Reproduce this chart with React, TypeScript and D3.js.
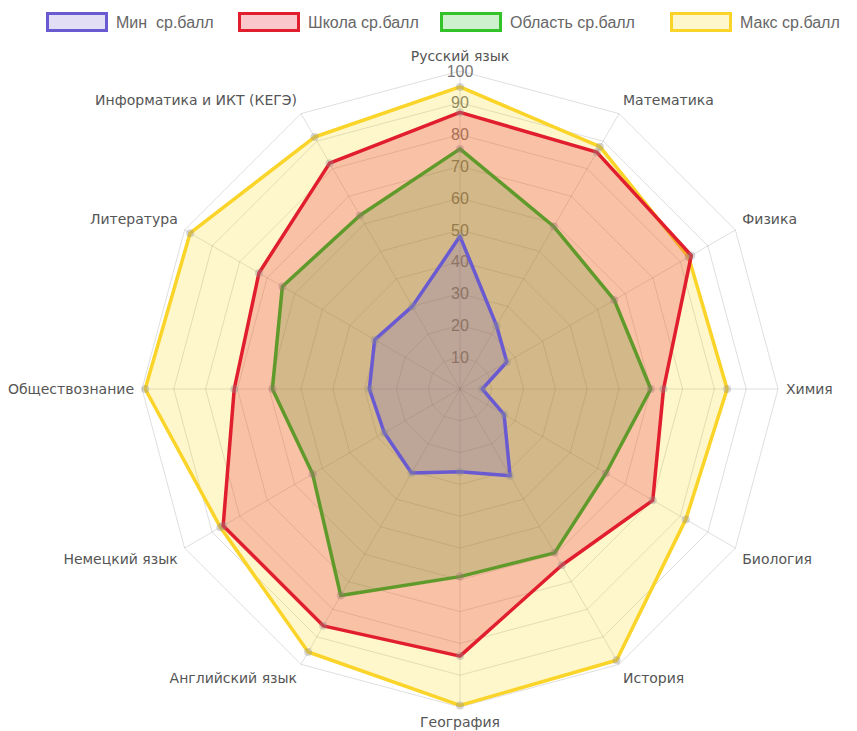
import React from "react";
import * as d3 from "d3";

const subjects = [
  "Русский язык",
  "Математика",
  "Физика",
  "Химия",
  "Биология",
  "История",
  "География",
  "Английский язык",
  "Немецкий язык",
  "Обществознание",
  "Литература",
  "Информатика и ИКТ (КЕГЭ)",
];

const minScores = [48, 23, 17, 7, 16, 31.5, 26, 30.5, 27.5, 28.5, 31, 30];
const schoolScores = [87, 86, 84, 64, 70, 64, 84, 86, 86, 71, 73, 82];
const regionScores = [75.5, 59, 56, 60, 53, 59.5, 59, 75, 53.5, 59, 64.5, 63];
const maxScores = [95, 88, 83, 84, 82, 98.5, 99.5, 95.5, 87, 99, 98, 91.5];

const tickValues = [10, 20, 30, 40, 50, 60, 70, 80, 90, 100];

const series = [
  { name: "Мин  ср.балл", values: minScores, stroke: "rgb(106,90,210)", fill: "rgba(106,90,210,0.2)" },
  { name: "Школа ср.балл", values: schoolScores, stroke: "rgb(225,30,45)", fill: "rgba(230,30,50,0.25)" },
  { name: "Область ср.балл", values: regionScores, stroke: "rgb(50,195,40)", fill: "rgba(50,200,50,0.25)" },
  { name: "Макс ср.балл", values: maxScores, stroke: "rgb(250,212,40)", fill: "rgba(255,215,0,0.2)" },
];

const width = 857;
const height = 731;
const cx = 460;
const cy = 389;
const font = "'Liberation Sans', Arial, sans-serif";
const labelFont = "'DejaVu Sans', sans-serif";

const App = () => {
  const r = d3.scaleLinear().domain([0, 100]).range([0, 318]);
  const angle = d3
    .scaleLinear()
    .domain([0, subjects.length])
    .range([0, Math.PI * 2]);

  const pt = (i: number, v: number): [number, number] => {
    const a = angle(i);
    return [cx + r(v) * Math.sin(a), cy - r(v) * Math.cos(a)];
  };

  const radarLine = d3
    .lineRadial<number>()
    .angle((d, i) => angle(i))
    .radius((d) => r(d))
    .curve(d3.curveLinearClosed);

  const ring = (v: number) =>
    subjects.map((s, i) => pt(i, v).join(",")).join(" ");

  const labelPos = (i: number) => {
    const a = angle(i);
    const deg = (a * 180) / Math.PI;
    const [x, y] = pt(i, 102.5);
    let anchor = "start";
    if (Math.abs(deg) < 1 || Math.abs(deg - 180) < 1) anchor = "middle";
    else if (deg > 180) anchor = "end";
    let dy = 0;
    if (Math.abs(deg - 90) < 1 || Math.abs(deg - 270) < 1) dy = 0;
    else if (deg < 90 || deg > 270) dy = -7;
    else dy = 7;
    return { x, y: y + dy, anchor };
  };

  // legend layout
  const legendX = [46, 238, 440, 670];

  return (
    <svg
      width={width}
      height={height}
      style={{ position: "absolute", left: 0, top: 0, background: "#fff" }}
    >
      {/* legend */}
      <g fontFamily={font} fontSize={16} fill="#666">
        {series.map((s, i) => (
          <g key={s.name} transform={`translate(${legendX[i]}, 12)`}>
            <rect x={1.5} y={1.5} width={59} height={17} fill={s.fill} stroke={s.stroke} strokeWidth={3} />
            <text x={70} y={10} dominantBaseline="central" style={{ whiteSpace: "pre" }}>
              {s.name}
            </text>
          </g>
        ))}
      </g>

      {/* grid */}
      <g fill="none" stroke="rgba(0,0,0,0.13)" strokeWidth={1}>
        {tickValues.map((t) => (
          <polygon key={t} points={ring(t)} />
        ))}
        {subjects.map((s, i) => {
          const [x, y] = pt(i, 100);
          return <line key={s} x1={cx} y1={cy} x2={x} y2={y} />;
        })}
      </g>

      {/* tick labels */}
      <g fontFamily={font} fontSize={16} fill="#777" textAnchor="middle">
        {tickValues.map((t) => (
          <text key={t} x={cx} y={cy - r(t)} dominantBaseline="central">
            {t}
          </text>
        ))}
      </g>

      {/* point labels */}
      <g fontFamily={labelFont} fontSize={14} fill="#555">
        {subjects.map((s, i) => {
          const p = labelPos(i);
          return (
            <text key={s} x={p.x} y={p.y} textAnchor={p.anchor} dominantBaseline="central">
              {s}
            </text>
          );
        })}
      </g>

      {/* datasets, last drawn first */}
      {series
        .slice()
        .reverse()
        .map((s) => (
          <g key={s.name}>
            <path
              d={radarLine(s.values) || ""}
              transform={`translate(${cx}, ${cy})`}
              fill={s.fill}
              stroke={s.stroke}
              strokeWidth={3.5}
              strokeLinejoin="round"
            />
            {s.values.map((v, i) => {
              const [x, y] = pt(i, v);
              return <circle key={i} cx={x} cy={y} r={4} fill="rgba(140,140,140,0.35)" />;
            })}
          </g>
        ))}
    </svg>
  );
};

export default App;
